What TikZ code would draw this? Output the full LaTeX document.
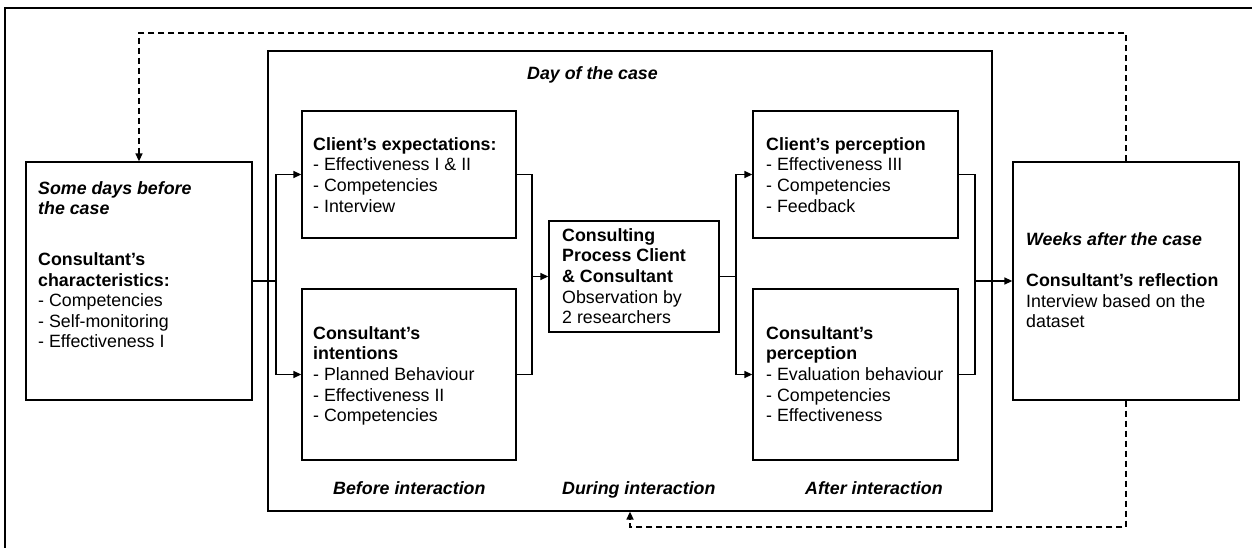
\documentclass[tikz,border=0pt]{standalone}
\usepackage{fontspec}
\setmainfont{Liberation Sans}
\usetikzlibrary{arrows.meta}
\tikzset{
  box/.style={draw=black, line width=1.3pt, rectangle, inner sep=0pt},
  txt/.style={anchor=north west, inner sep=0pt, align=left, font=\fontsize{17.8}{20.6}\selectfont},
  lbl/.style={anchor=base west, inner sep=0pt, font=\fontsize{17.8}{20.6}\selectfont\bfseries\itshape},
  conn/.style={draw=black, line width=1.3pt},
  arr/.style={conn, -{Triangle[length=8pt,width=7pt]}},
  dsh/.style={draw=black, line width=1.6pt, dash pattern=on 6pt off 4pt, -{Triangle[length=8pt,width=7pt]}},
}
\newcommand{\fs}{\rule{0pt}{15pt}}
\begin{document}
\begin{tikzpicture}[x=1pt,y=-1pt]
\useasboundingbox (0,0) rectangle (1252,548);
% outer frame (clipped at right and bottom)
\draw[line width=1.8pt] (5,548) -- (5,8) -- (1252,8);

% boxes
\node[box, minimum width=226pt, minimum height=238pt] (left) at (139,281) {};
\node[box, minimum width=724pt, minimum height=460pt] (day) at (630,281) {};
\node[box, minimum width=214pt, minimum height=127pt] (cexp) at (409,174.5) {};
\node[box, minimum width=214pt, minimum height=171pt] (cint) at (409,374.5) {};
\node[box, minimum width=170pt, minimum height=111pt] (proc) at (634,276.5) {};
\node[box, minimum width=205pt, minimum height=127pt] (cper) at (855.5,174.5) {};
\node[box, minimum width=205pt, minimum height=171pt] (kper) at (855.5,374.5) {};
\node[box, minimum width=226pt, minimum height=238pt] (right) at (1126,281) {};

% texts
\node[txt] (tleft) at (38,179) {\fs\textbf{\textit{Some days before}}\\
  \textbf{\textit{the case}}\\[30pt]
  \textbf{Consultant’s}\\
  \textbf{characteristics:}\\
  - Competencies\\
  - Self-monitoring\\
  - Effectiveness I};
\node[txt] (tcexp) at (313,135) {\fs\textbf{Client’s expectations:}\\
  - Effectiveness I \& II\\
  - Competencies\\
  - Interview};
\node[txt] (tcint) at (313,324) {\fs\textbf{Consultant’s}\\
  \textbf{intentions}\\
  - Planned Behaviour\\
  - Effectiveness II\\
  - Competencies};
\node[txt] (tproc) at (562,226) {\fs\textbf{Consulting}\\
  \textbf{Process Client}\\
  \textbf{\& Consultant}\\
  Observation by\\
  2 researchers};
\node[txt] (tcper) at (766,135) {\fs\textbf{Client’s perception}\\
  - Effectiveness III\\
  - Competencies\\
  - Feedback};
\node[txt] (tkper) at (766,324) {\fs\textbf{Consultant’s}\\
  \textbf{perception}\\
  - Evaluation behaviour\\
  - Competencies\\
  - Effectiveness};
\node[txt] (tright) at (1026,230) {\fs\textbf{\textit{Weeks after the case}}\\[20.6pt]
  \textbf{Consultant’s reflection}\\
  Interview based on the\\
  dataset};

\node[lbl] (tday) at (527,80) {Day of the case};
\node[lbl] (tbefore) at (333,494) {Before interaction};
\node[lbl] (tduring) at (562,494) {During interaction};
\node[lbl] (tafter) at (805,494) {After interaction};

% connectors
\coordinate (s1) at (276,281);
\coordinate (m1) at (532,276.5);
\coordinate (m2) at (736,276.5);
\coordinate (m3) at (975,281);
\draw[conn] (left.east) -- (s1);
\draw[arr] (s1) |- (cexp.west);
\draw[arr] (s1) |- (cint.west);
\draw[conn] (cexp.east) -| (m1) |- (cint.east);
\draw[arr] (m1) -- (proc.west);
\draw[conn] (proc.east) -- (m2);
\draw[arr] (m2) |- (cper.west);
\draw[arr] (m2) |- (kper.west);
\draw[conn] (cper.east) -| (m3) |- (kper.east);
\draw[arr] (m3) -- (right.west);

% dashed feedback loops
\coordinate (d1) at (630,33);
\coordinate (d2) at (800,527);
\draw[dsh] (right.north) |- (d1) -| (left.north);
\draw[dsh] (right.south) |- (d2) -| (day.south);
\end{tikzpicture}
\end{document}
